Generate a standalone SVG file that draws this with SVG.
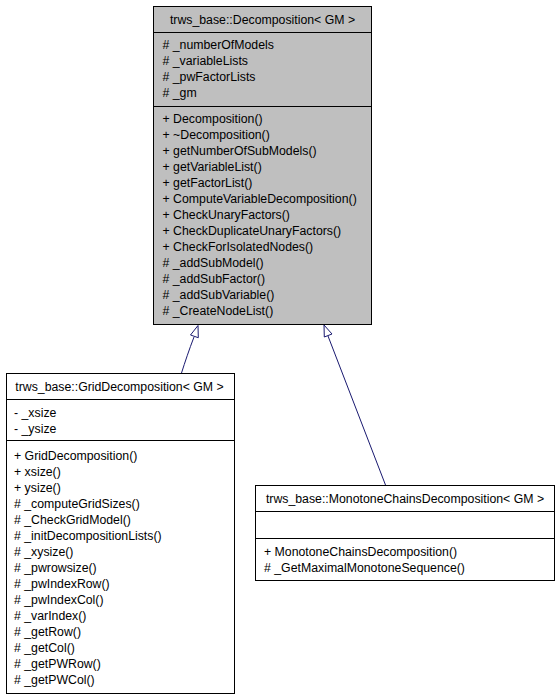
<svg xmlns="http://www.w3.org/2000/svg" width="560" height="699" viewBox="0 0 560 699">
<style>
text{font-family:"Liberation Sans",Arial,Helvetica,sans-serif;font-size:12.3px;fill:#000}
.t{text-anchor:middle}
.box{stroke:#000;stroke-width:1}
.base{fill:#bfbfbf}
.cls{fill:#fff}
.edge{fill:none;stroke:#191970;stroke-width:1}
.head{fill:#fff;stroke:#191970;stroke-width:1}
</style>
<rect width="560" height="699" fill="#fff"/>
<g id="edges">
<path class="edge" d="M181.5,373 C185,362 189,350 194,337"/>
<polygon class="head" points="198,325.5 190.5,335 198.3,337.7"/>
<path class="edge" d="M385.5,485 L328,336"/>
<polygon class="head" points="324,325 324.3,337 332,334"/>
</g>
<g id="node-decomposition">
<rect class="box base" x="153.5" y="6.5" width="218" height="318"/>
<line class="box" x1="153.5" y1="32.5" x2="371.5" y2="32.5"/>
<line class="box" x1="153.5" y1="106.5" x2="371.5" y2="106.5"/>
<text class="t" x="262.5" y="23.5">trws_base::Decomposition&lt; GM &gt;</text>
<text x="162.5" y="48.5"># _numberOfModels</text>
<text x="162.5" y="64.5"># _variableLists</text>
<text x="162.5" y="80.5"># _pwFactorLists</text>
<text x="162.5" y="96.5"># _gm</text>
<text x="162.5" y="122.5">+ Decomposition()</text>
<text x="162.5" y="138.5">+ ~Decomposition()</text>
<text x="162.5" y="154.5">+ getNumberOfSubModels()</text>
<text x="162.5" y="170.5">+ getVariableList()</text>
<text x="162.5" y="186.5">+ getFactorList()</text>
<text x="162.5" y="202.5">+ ComputeVariableDecomposition()</text>
<text x="162.5" y="218.5">+ CheckUnaryFactors()</text>
<text x="162.5" y="234.5">+ CheckDuplicateUnaryFactors()</text>
<text x="162.5" y="250.5">+ CheckForIsolatedNodes()</text>
<text x="162.5" y="266.5"># _addSubModel()</text>
<text x="162.5" y="282.5"># _addSubFactor()</text>
<text x="162.5" y="298.5"># _addSubVariable()</text>
<text x="162.5" y="314.5"># _CreateNodeList()</text>
</g>
<g id="node-grid">
<rect class="box cls" x="6.5" y="373.5" width="228" height="320"/>
<line class="box" x1="6.5" y1="399.5" x2="234.5" y2="399.5"/>
<line class="box" x1="6.5" y1="440.5" x2="234.5" y2="440.5"/>
<text class="t" x="119.5" y="390.5">trws_base::GridDecomposition&lt; GM &gt;</text>
<text x="14" y="416.5">- _xsize</text>
<text x="14" y="432.5">- _ysize</text>
<text x="14" y="459.5">+ GridDecomposition()</text>
<text x="14" y="475.5">+ xsize()</text>
<text x="14" y="491.5">+ ysize()</text>
<text x="14" y="507.5"># _computeGridSizes()</text>
<text x="14" y="523.5"># _CheckGridModel()</text>
<text x="14" y="539.5"># _initDecompositionLists()</text>
<text x="14" y="555.5"># _xysize()</text>
<text x="14" y="571.5"># _pwrowsize()</text>
<text x="14" y="587.5"># _pwIndexRow()</text>
<text x="14" y="603.5"># _pwIndexCol()</text>
<text x="14" y="619.5"># _varIndex()</text>
<text x="14" y="635.5"># _getRow()</text>
<text x="14" y="651.5"># _getCol()</text>
<text x="14" y="667.5"># _getPWRow()</text>
<text x="14" y="683.5"># _getPWCol()</text>
</g>
<g id="node-monotone">
<rect class="box cls" x="255.5" y="485.5" width="299" height="95"/>
<line class="box" x1="255.5" y1="511.5" x2="554.5" y2="511.5"/>
<line class="box" x1="255.5" y1="538.5" x2="554.5" y2="538.5"/>
<text class="t" x="405" y="502.5">trws_base::MonotoneChainsDecomposition&lt; GM &gt;</text>
<text x="264" y="555.5">+ MonotoneChainsDecomposition()</text>
<text x="264" y="571.5"># _GetMaximalMonotoneSequence()</text>
</g>
</svg>
